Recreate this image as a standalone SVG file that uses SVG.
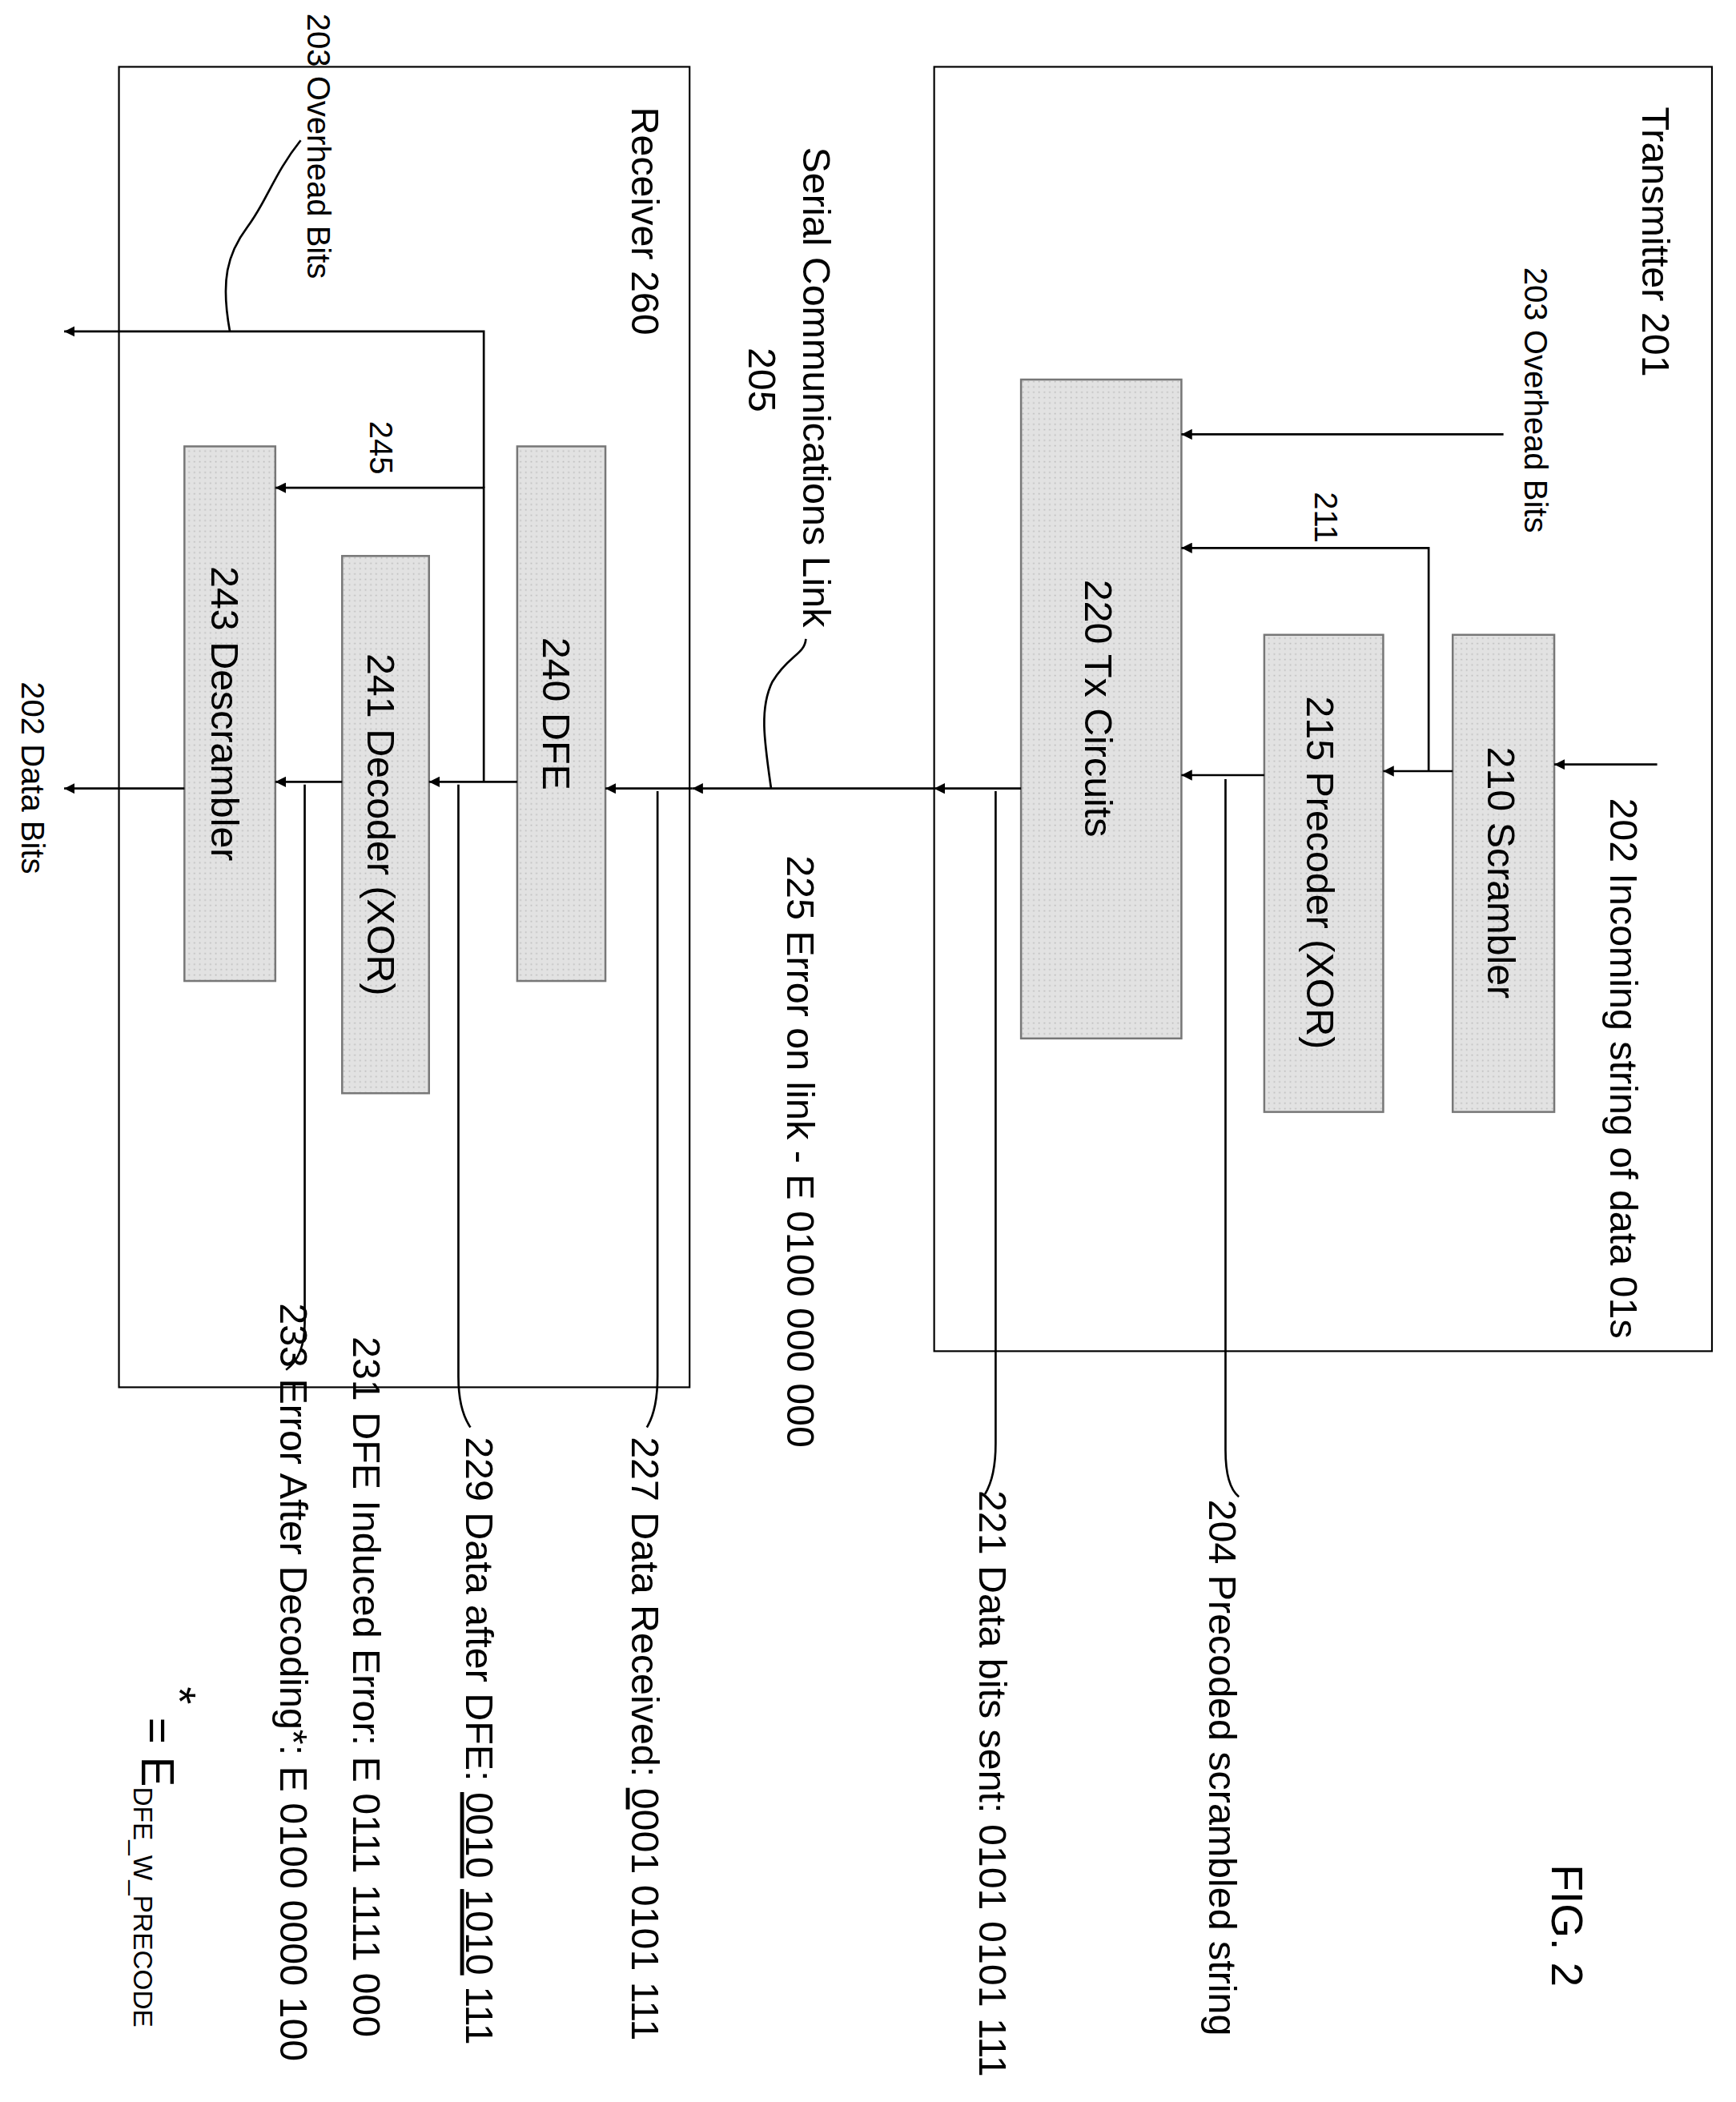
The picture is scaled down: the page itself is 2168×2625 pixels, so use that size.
<svg xmlns="http://www.w3.org/2000/svg" width="2168" height="2625" viewBox="0 0 2168 2625">
<style>
text{font-family:"Liberation Sans",Arial,sans-serif;font-size:29px;fill:#000}
.s{font-size:24px}
.f{font-size:33px}
.b{fill:#dedede;stroke:#777;stroke-width:1.5}
.c{fill:none;stroke:#000;stroke-width:1.6}
.frame{fill:none;stroke:#000;stroke-width:1.3}
</style>
<defs>
<marker id="a" viewBox="0 0 10 10" refX="10" refY="5" markerWidth="8" markerHeight="8" orient="auto" markerUnits="userSpaceOnUse"><path d="M0,0 L10,5 L0,10 z" fill="#000"/></marker>
<pattern id="dots" width="4" height="4" patternUnits="userSpaceOnUse"><rect width="4" height="4" fill="#e2e2e2"/><rect x="1" y="1" width="1" height="1" fill="#bbb"/></pattern>
</defs>
<rect width="2168" height="2625" fill="#fff"/>
<g transform="scale(1.669)">
<g id="transmitter"><rect class="frame" x="699" y="50" width="582" height="961"/><text transform="translate(1229,80) rotate(90)">Transmitter 201</text></g>
<g id="receiver"><rect class="frame" x="89" y="50" width="427" height="988"/><text transform="translate(473,80) rotate(90)">Receiver 260</text></g>
<g id="n210"><rect class="b" style="fill:url(#dots)" x="1087" y="475" width="76" height="357"/><text transform="translate(1113,653) rotate(90)" text-anchor="middle">210 Scrambler</text></g>
<g id="n215"><rect class="b" style="fill:url(#dots)" x="946" y="475" width="89" height="357"/><text transform="translate(978,653) rotate(90)" text-anchor="middle">215 Precoder (XOR)</text></g>
<g id="n220"><rect class="b" style="fill:url(#dots)" x="764" y="284" width="120" height="493"/><text transform="translate(812,530) rotate(90)" text-anchor="middle">220 Tx Circuits</text></g>
<g id="n240"><rect class="b" style="fill:url(#dots)" x="387" y="334" width="66" height="400"/><text transform="translate(406,534) rotate(90)" text-anchor="middle">240 DFE</text></g>
<g id="n241"><rect class="b" style="fill:url(#dots)" x="256" y="416" width="65" height="402"/><text transform="translate(275,617) rotate(90)" text-anchor="middle">241 Decoder (XOR)</text></g>
<g id="n243"><rect class="b" style="fill:url(#dots)" x="138" y="334" width="68" height="400"/><text transform="translate(158,534) rotate(90)" text-anchor="middle">243 Descrambler</text></g>
<g id="connectors">
<path class="c" marker-end="url(#a)" d="M1240,572 H1163"/>
<path class="c" marker-end="url(#a)" d="M1087,577 H1035"/>
<path class="c" marker-end="url(#a)" d="M1069,577 V410 H884"/>
<path class="c" marker-end="url(#a)" d="M1125,325 H884"/>
<path class="c" marker-end="url(#a)" d="M946,580 H884"/>
<path class="c" marker-end="url(#a)" d="M764,590 H699"/>
<path class="c" marker-end="url(#a)" d="M699,590 H518"/>
<path class="c" marker-end="url(#a)" d="M518,590 H453"/>
<path class="c" marker-end="url(#a)" d="M387,585 H321"/>
<path class="c" marker-end="url(#a)" d="M362,585 V365 H206"/>
<path class="c" marker-end="url(#a)" d="M362,365 V248 H48"/>
<path class="c" marker-end="url(#a)" d="M256,585 H206"/>
<path class="c" marker-end="url(#a)" d="M138,590 H48"/>
<path class="c" d="M917,583 V1085 Q917,1112 927,1120"/>
<path class="c" d="M745,592 V1080 Q745,1105 737,1118"/>
<path class="c" d="M492,592 V1030 Q492,1055 484,1068"/>
<path class="c" d="M343,587 V1030 Q343,1055 352,1068"/>
<path class="c" d="M228,587 V990 Q228,1015 214,1025"/>
<path class="c" d="M577,590 C572,555 568,530 578,510 C590,490 602,490 603,478"/>
<path class="c" d="M172,248 C165,210 170,190 185,170 C200,150 205,130 225,105"/>
</g>
<g id="labels">
<text transform="translate(1205,597) rotate(90)">202 Incoming string of data 01s</text>
<text class="s" transform="translate(1141,200) rotate(90)">203 Overhead Bits</text>
<text class="s" transform="translate(984,368) rotate(90)">211</text>
<text transform="translate(905,1122) rotate(90)">204 Precoded scrambled string</text>
<text transform="translate(733,1115) rotate(90)">221 Data bits sent: 0101 0101 111</text>
<text transform="translate(601,110) rotate(90)">Serial Communications Link</text>
<text transform="translate(560,260) rotate(90)">205</text>
<text transform="translate(589,640) rotate(90)">225 Error on link -  E 0100 000 000</text>
<text transform="translate(473,1075) rotate(90)">227 Data Received: <tspan text-decoration="underline">0</tspan>001 0101 111</text>
<text transform="translate(349,1075) rotate(90)">229 Data after DFE: <tspan text-decoration="underline">0010</tspan> <tspan text-decoration="underline">1010</tspan> 111</text>
<text transform="translate(264,1000) rotate(90)">231 DFE Induced Error: E 0111 1111 000</text>
<text transform="translate(210,975) rotate(90)">233 Error After Decoding*: E 0100 0000 100</text>
<text class="s" transform="translate(277,315) rotate(90)">245</text>
<text class="s" transform="translate(230,10) rotate(90)">203 Overhead Bits</text>
<text class="s" transform="translate(16,510) rotate(90)">202 Data Bits</text>
<text class="f" transform="translate(1161,1395) rotate(90)">FIG. 2</text>
<text style="font-size:34px" transform="translate(122,1262) rotate(90)">*</text>
<text style="font-size:34px" transform="translate(106,1285) rotate(90)">= E<tspan class="s" style="font-size:20px" dy="6">DFE_W_PRECODE</tspan></text>
</g>
</g>
</svg>
